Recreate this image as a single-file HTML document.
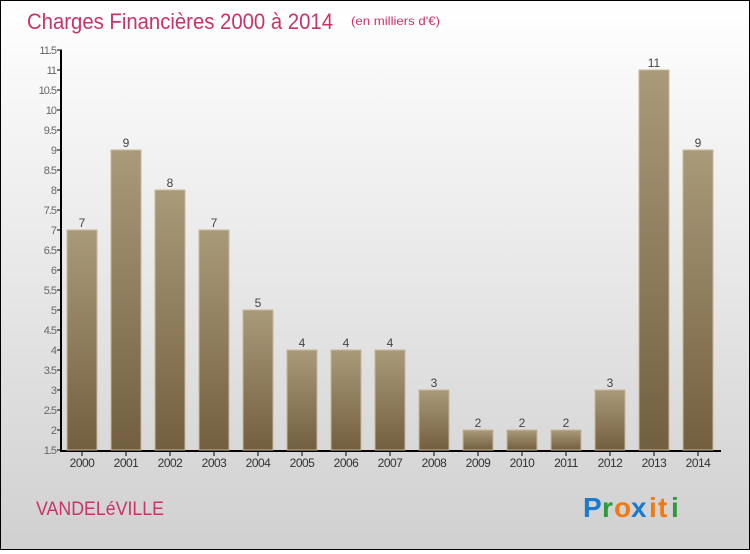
<!DOCTYPE html>
<html><head><meta charset="utf-8"><style>
html,body{margin:0;padding:0;}
body{width:750px;height:550px;overflow:hidden;font-family:"Liberation Sans",sans-serif;}
#wrap{position:relative;width:748px;height:548px;border:1px solid #000;background:linear-gradient(#ffffff,#d0d0d0);}
</style></head><body>
<div id="wrap">
<svg id="chart" width="748" height="548" xmlns="http://www.w3.org/2000/svg">
<defs>
<linearGradient id="bg" x1="0" y1="0" x2="0" y2="1"><stop offset="0" stop-color="#a99a7a"/><stop offset="1" stop-color="#735f40"/></linearGradient>
</defs>
<text x="26" y="28" font-size="22" fill="#c8336a" textLength="306" lengthAdjust="spacingAndGlyphs">Charges Financières 2000 à 2014</text>
<text x="350" y="24" font-size="12" fill="#c8336a" textLength="89" lengthAdjust="spacingAndGlyphs">(en milliers d'€)</text>
<text x="35" y="514" font-size="19" fill="#c8336a" textLength="128" lengthAdjust="spacingAndGlyphs">VANDELéVILLE</text>
<g font-size="28" font-family="'Liberation Sans',sans-serif" font-weight="bold">
<text x="582" y="516" fill="#1a7ad0">P</text><text x="601" y="516" fill="#2a9a3a">r</text><text x="613" y="516" fill="#f07a10">o</text><text x="630" y="516" fill="#1a7ad0">x</text><text x="648" y="516" fill="#f07a10">i</text><text x="657" y="516" fill="#f07a10">t</text><text x="670" y="516" fill="#2a9a3a">i</text>
</g>
<g id="axes"></g>
<g id="bars"></g>
</svg>
</div>
<script>
const years=["2000","2001","2002","2003","2004","2005","2006","2007","2008","2009","2010","2011","2012","2013","2014"];
const values=[7,9,8,7,5,4,4,4,3,2,2,2,3,11,9];
const ticks=[1.5,2,2.5,3,3.5,4,4.5,5,5.5,6,6.5,7,7.5,8,8.5,9,9.5,10,10.5,11,11.5];
const NS="http://www.w3.org/2000/svg";
const y=v=>449-(v-1.5)*40;
const x=i=>81+i*44;
function mk(t,a,p){const e=document.createElementNS(NS,t);for(const k in a)e.setAttribute(k,a[k]);p.appendChild(e);return e;}
const ax=document.getElementById('axes'),bg=document.getElementById('bars');
let l=mk('line',{x1:60,y1:49,x2:60,y2:450,stroke:'#000','stroke-width':2},ax);


l=mk('line',{x1:59,y1:450,x2:720,y2:450,stroke:'#000','stroke-width':2},ax);


ticks.forEach(t=>{
 const tk=mk('line',{x1:56,y1:y(t),x2:61,y2:y(t),stroke:'#000'},ax);
 
 
 const tx=mk('text',{x:55,y:y(t)+4,'font-size':11,fill:'#666','text-anchor':'end','letter-spacing':'-1'},ax);
 tx.textContent=String(t);
 
 
});
years.forEach((yr,i)=>{
 const v=values[i];
 const r=mk('rect',{x:x(i)-15,y:y(v),width:30,height:y(1.5)-y(v),fill:'url(#bg)',stroke:'#c8b896','stroke-width':1},bg);
 
 
 const lb=mk('text',{x:x(i),y:y(v)-3,'font-size':12,fill:'#444','text-anchor':'middle'},bg);
 lb.textContent=String(v);
 
 
 const tk=mk('line',{x1:x(i),y1:450,x2:x(i),y2:455,stroke:'#000'},ax);
 
 
 const xl=mk('text',{x:x(i),y:466,'font-size':12,fill:'#333','text-anchor':'middle','letter-spacing':'-0.5'},ax);
 xl.textContent=yr;
 
 
});
</script>
</body></html>
